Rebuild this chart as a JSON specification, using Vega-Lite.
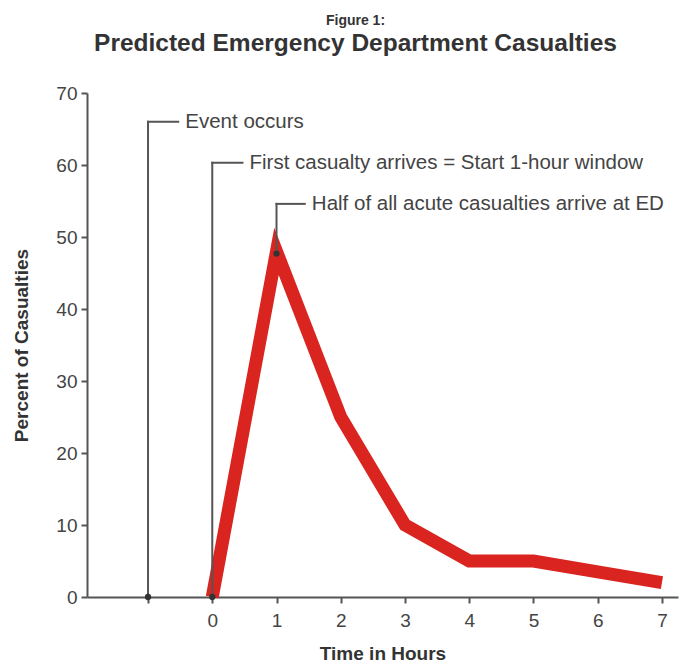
{
  "$schema": "https://vega.github.io/schema/vega-lite/v6.json",
  "width": 591,
  "height": 504,
  "autosize": {"type": "none"},
  "padding": {"left": 87, "top": 93, "right": 1, "bottom": 68},
  "background": "white",
  "config": {"view": {"stroke": null}, "font": "Liberation Sans"},
  "title": {
    "text": "Figure 1:",
    "subtitle": "Predicted Emergency Department Casualties",
    "fontSize": 14,
    "fontWeight": "bold",
    "color": "#333333",
    "subtitleFontSize": 24.5,
    "subtitleFontWeight": "bold",
    "subtitleColor": "#333333",
    "subtitlePadding": 4,
    "offset": 29,
    "dx": -27,
    "anchor": "middle",
    "font": "Liberation Sans",
    "subtitleFont": "Liberation Sans"
  },
  "datasets": {
    "series": [
      {"hour": 0, "pct": 0},
      {"hour": 1, "pct": 48},
      {"hour": 2, "pct": 25},
      {"hour": 3, "pct": 10},
      {"hour": 4, "pct": 5},
      {"hour": 5, "pct": 5},
      {"hour": 6, "pct": 3.5},
      {"hour": 7, "pct": 2}
    ],
    "leaders": [
      {"x": -1, "y": 0, "x2": -1, "y2": 66},
      {"x": -1, "y": 66, "x2": -0.53, "y2": 66},
      {"x": 0, "y": 0, "x2": 0, "y2": 60.3},
      {"x": 0, "y": 60.3, "x2": 0.47, "y2": 60.3},
      {"x": 1, "y": 47.7, "x2": 1, "y2": 54.6},
      {"x": 1, "y": 54.6, "x2": 1.44, "y2": 54.6}
    ],
    "dots": [
      {"x": -1, "y": 0},
      {"x": 0, "y": 0},
      {"x": 1, "y": 47.7}
    ],
    "notes": [
      {"x": -0.42, "y": 66, "label": "Event occurs"},
      {"x": 0.58, "y": 60.3, "label": "First casualty arrives = Start 1-hour window"},
      {"x": 1.55, "y": 54.6, "label": "Half of all acute casualties arrive at ED"}
    ]
  },
  "layer": [
    {
      "data": {"name": "series"},
      "mark": {"type": "line", "color": "#d92420", "strokeWidth": 13, "strokeJoin": "miter", "strokeCap": "butt"},
      "encoding": {
        "x": {
          "field": "hour",
          "type": "quantitative",
          "scale": {"domain": [-1.95, 7.25], "nice": false, "zero": false},
          "axis": {
            "title": "Time in Hours",
            "values": [-1, 0, 1, 2, 3, 4, 5, 6, 7],
            "format": "d",
            "labelExpr": "datum.value == -1 ? '' : datum.label",
            "grid": false,
            "domainColor": "#555555",
            "domainWidth": 2,
            "tickColor": "#555555",
            "tickWidth": 2,
            "tickSize": 6,
            "labelFontSize": 19,
            "labelColor": "#444444",
            "labelPadding": 8,
            "titleFontSize": 19,
            "titleFontWeight": "bold",
            "titleColor": "#333333",
            "titlePadding": 14
          }
        },
        "y": {
          "field": "pct",
          "type": "quantitative",
          "scale": {"domain": [0, 70], "nice": false},
          "axis": {
            "title": "Percent of Casualties",
            "values": [0, 10, 20, 30, 40, 50, 60, 70],
            "format": "d",
            "grid": false,
            "domainColor": "#555555",
            "domainWidth": 2,
            "tickColor": "#555555",
            "tickWidth": 2,
            "tickSize": 6,
            "labelFontSize": 19,
            "labelColor": "#444444",
            "labelPadding": 4,
            "titleFontSize": 19,
            "titleFontWeight": "bold",
            "titleColor": "#333333",
            "titlePadding": 24
          }
        }
      }
    },
    {
      "data": {"name": "leaders"},
      "mark": {"type": "rule", "color": "#555555", "strokeWidth": 2, "strokeCap": "square"},
      "encoding": {
        "x": {"field": "x", "type": "quantitative"},
        "y": {"field": "y", "type": "quantitative"},
        "x2": {"field": "x2"},
        "y2": {"field": "y2"}
      }
    },
    {
      "data": {"name": "dots"},
      "mark": {"type": "point", "filled": true, "color": "#333333", "size": 40, "opacity": 1},
      "encoding": {
        "x": {"field": "x", "type": "quantitative"},
        "y": {"field": "y", "type": "quantitative"}
      }
    },
    {
      "data": {"name": "notes"},
      "mark": {"type": "text", "align": "left", "baseline": "middle", "fontSize": 20.5, "color": "#444444", "font": "Liberation Sans"},
      "encoding": {
        "x": {"field": "x", "type": "quantitative"},
        "y": {"field": "y", "type": "quantitative"},
        "text": {"field": "label"}
      }
    }
  ]
}
